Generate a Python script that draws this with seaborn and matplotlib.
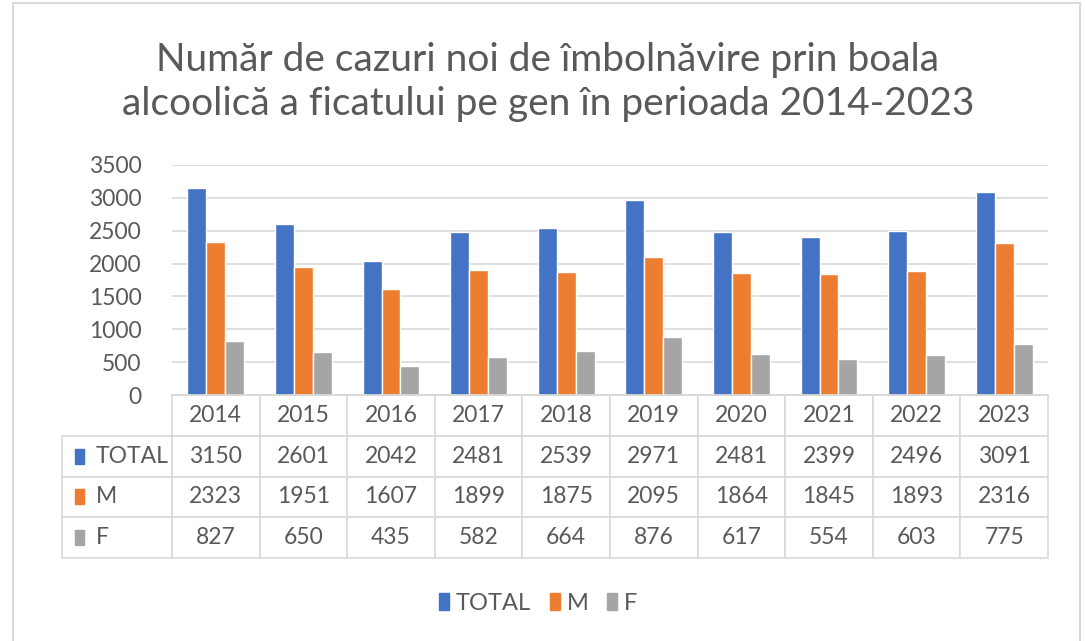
import numpy as np
import pandas as pd
import matplotlib
matplotlib.use('Agg')
import matplotlib.pyplot as plt
from matplotlib.patches import Patch, Rectangle
import seaborn as sns

years = ['2014', '2015', '2016', '2017', '2018', '2019', '2020', '2021', '2022', '2023']
series = ['TOTAL', 'M', 'F']
total = [3150, 2601, 2042, 2481, 2539, 2971, 2481, 2399, 2496, 3091]
male = [2323, 1951, 1607, 1899, 1875, 2095, 1864, 1845, 1893, 2316]
female = [827, 650, 435, 582, 664, 876, 617, 554, 603, 775]
yticks = [0, 500, 1000, 1500, 2000, 2500, 3000, 3500]
title = 'Număr de cazuri noi de îmbolnăvire prin boala\nalcoolică a ficatului pe gen în perioada 2014-2023'

colors = ['#4472C4', '#ED7D31', '#A5A5A5']
text_color = '#595959'
line_color = '#D9D9D9'

sns.set_theme(style='white')
plt.rcParams['font.family'] = ['Lato', 'DejaVu Sans']

df = pd.DataFrame({
    'year': np.repeat(years, 3),
    'series': series * len(years),
    'value': np.ravel(np.column_stack([total, male, female])),
})

W, H = 1085, 641
fig = plt.figure(figsize=(W / 100, H / 100), dpi=100)
ax_l, ax_r, ax_t, ax_b = 172, 1048, 165, 395
ax = fig.add_axes([ax_l / W, 1 - ax_b / H, (ax_r - ax_l) / W, (ax_b - ax_t) / H])

sns.barplot(data=df, x='year', y='value', hue='series', hue_order=series,
            palette=colors, saturation=1, width=0.65, legend=False, ax=ax)

ax.set_ylim(0, 3500)
ax.set_yticks(yticks)
ax.set_yticklabels([str(t) for t in yticks])
ax.tick_params(axis='y', length=0, pad=22, labelsize=16.5, labelcolor=text_color)
ax.set_xticks(range(len(years)))
ax.set_xticklabels([])
ax.tick_params(axis='x', length=0)
ax.set_xlabel('')
ax.set_ylabel('')
ax.yaxis.grid(True, color=line_color, linewidth=1.2)
ax.set_axisbelow(True)
for side in ['top', 'right', 'left']:
    ax.spines[side].set_visible(False)
ax.spines['bottom'].set_color(line_color)

# data table under the bars (first column holds the series names)
ax_w = ax_r - ax_l
ax_h = ax_b - ax_t
lab_w = (172 - 62) / ax_w
tab_h = (558 - 395) / ax_h
cell_text = [[name] + [str(v) for v in row]
             for name, row in zip(series, [total, male, female])]
tab = ax.table(cellText=cell_text, colLabels=[''] + years,
               cellLoc='center', colWidths=[lab_w] + [0.1] * len(years),
               bbox=[-lab_w, -tab_h, 1 + lab_w, tab_h])
tab.auto_set_font_size(False)
tab.set_fontsize(16.5)
for (r, c), cell in tab.get_celld().items():
    cell.set_edgecolor(line_color)
    cell.set_linewidth(1.2)
    cell.get_text().set_color(text_color)
    if c == 0:
        if r == 0:
            cell.visible_edges = ''
        else:
            cell.get_text().set_ha('left')
            cell.PAD = 0.31

# colored keys in the row label cells
row_h = tab_h / 4
kw, kh = 9 / ax_w, 15 / ax_h
for i, col in enumerate(colors):
    yc = -row_h * (i + 1.5)
    ax.add_patch(Rectangle((-lab_w + 13 / ax_w, yc - kh / 2), kw, kh,
                           transform=ax.transAxes, color=col, clip_on=False,
                           zorder=5))

fig.text(0.505, 1 - 82 / H, title, ha='center', va='center', fontsize=28,
         color=text_color, linespacing=1.3)

handles = [Patch(color=c, label=s) for c, s in zip(colors, series)]
fig.legend(handles=handles, loc='center', bbox_to_anchor=(0.496, 1 - 603 / H),
           ncol=3, frameon=False, fontsize=17, labelcolor=text_color,
           handlelength=0.42, handleheight=0.7, handletextpad=0.3,
           columnspacing=0.8)

# chart frame
fig.patches.append(Rectangle((13 / W, -0.01), (1080 - 13) / W, 1.01 - 3 / H,
                             transform=fig.transFigure, fill=False,
                             edgecolor=line_color, linewidth=1.5))

fig.savefig('out.png', dpi=100)
